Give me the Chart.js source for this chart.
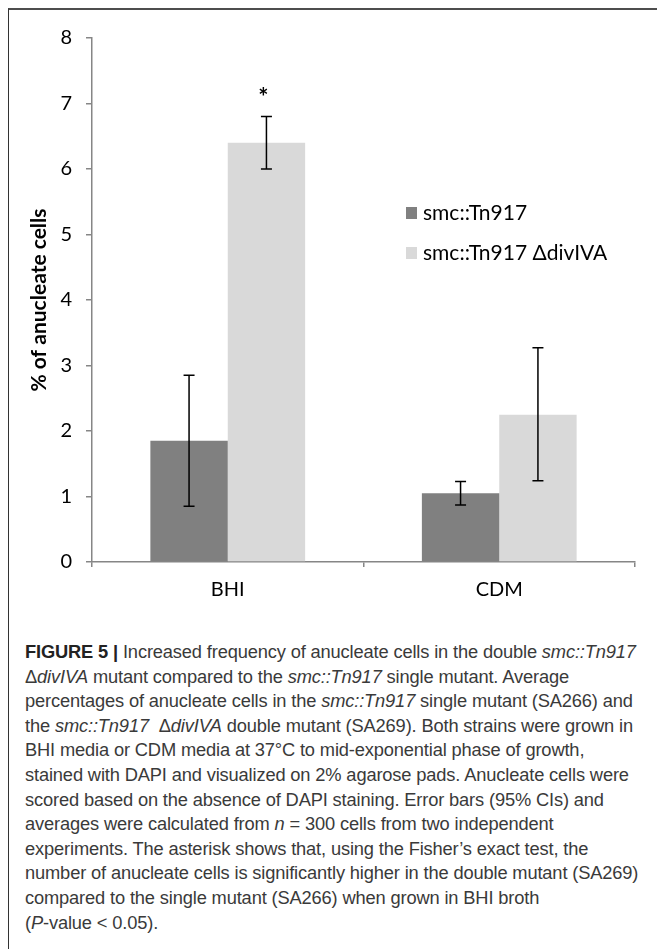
<!DOCTYPE html>
<html>
<head>
<meta charset="utf-8">
<script src="https://cdn.jsdelivr.net/npm/chart.js@4"></script>
<style>
  body { margin: 0; width: 657px; height: 949px; background: #fff; position: relative; overflow: hidden; }
  .frame { position: absolute; left: 8px; top: 8px; width: 649px; height: 941px;
           border-top: 2px solid #4d4d4d; border-left: 1.5px solid #333; box-sizing: border-box; }
  .plot { position: absolute; left: 0; top: 0; width: 657px; height: 620px; }
  .caption { position: absolute; left: 25px; top: 640px; width: 632px; white-space: nowrap;
             font-family: "Liberation Sans", Arial, sans-serif; font-size: 18.3px; line-height: 24.6px;
             color: #3a3a3a; letter-spacing: -0.15px; }
  .caption b { color: #222; }
</style>
</head>
<body>
<div class="frame"></div>
<div class="plot"><canvas id="chart"></canvas></div>
<div class="caption">
<b>FIGURE 5 |</b> Increased frequency of anucleate cells in the double <i>smc::Tn917</i><br>
Δ<i>divIVA</i> mutant compared to the <i>smc::Tn917</i> single mutant. Average<br>
percentages of anucleate cells in the <i>smc::Tn917</i> single mutant (SA266) and<br>
the <i>smc::Tn917</i> &nbsp;Δ<i>divIVA</i> double mutant (SA269). Both strains were grown in<br>
BHI media or CDM media at 37°C to mid-exponential phase of growth,<br>
stained with DAPI and visualized on 2% agarose pads. Anucleate cells were<br>
scored based on the absence of DAPI staining. Error bars (95% CIs) and<br>
averages were calculated from <i>n</i> = 300 cells from two independent<br>
experiments. The asterisk shows that, using the Fisher’s exact test, the<br>
number of anucleate cells is significantly higher in the double mutant (SA269)<br>
compared to the single mutant (SA266) when grown in BHI broth<br>
(<i>P</i>-value &lt; 0.05).
</div>
<script>
// values
const media = ["BHI", "CDM"]

const singleLabel = "smc::Tn917"
const singleValues = [1.85, 1.05]
const singleLow = [0.85, 0.87]
const singleHigh = [2.85, 1.23]
const singleMarks = ["", ""]

const doubleLabel = "smc::Tn917 ΔdivIVA"
const doubleValues = [6.4, 2.25]
const doubleLow = [6.0, 1.24]
const doubleHigh = [6.8, 3.27]
const doubleMarks = ["*", ""]

const yTicks = [0, 1, 2, 3, 4, 5, 6, 7, 8]

const AXIS_FONT = "Lato, 'Open Sans', sans-serif"
const AXIS_GREY = "#868686"

// error bars + significance asterisks, drawn through the y scale
const errorBars = {
  id: "errorBars",
  afterDatasetsDraw(chart) {
    const { ctx, scales: { y } } = chart
    chart.data.datasets.forEach((ds, i) => {
      const meta = chart.getDatasetMeta(i)
      meta.data.forEach((bar, j) => {
        const top = y.getPixelForValue(ds.errHigh[j])
        const bottom = y.getPixelForValue(ds.errLow[j])
        ctx.save()
        ctx.strokeStyle = "#000"
        ctx.lineWidth = 1.5
        ctx.beginPath()
        ctx.moveTo(bar.x, top)
        ctx.lineTo(bar.x, bottom)
        ctx.moveTo(bar.x - 5.5, top)
        ctx.lineTo(bar.x + 5.5, top)
        ctx.moveTo(bar.x - 5.5, bottom)
        ctx.lineTo(bar.x + 5.5, bottom)
        ctx.stroke()
        if (ds.marks[j]) {
          ctx.fillStyle = "#000"
          ctx.font = "bold 24px " + AXIS_FONT
          ctx.textAlign = "center"
          ctx.textBaseline = "middle"
          ctx.fillText(ds.marks[j], bar.x - 3, top - 18)
        }
        ctx.restore()
      })
    })
  }
}

// legend sits inside the plot area, right of the BHI group
const insideLegend = {
  id: "insideLegend",
  afterDraw(chart, args, opts) {
    const { ctx } = chart
    chart.data.datasets.forEach((ds, i) => {
      const cy = opts.y + i * opts.gap
      ctx.save()
      ctx.fillStyle = ds.backgroundColor
      ctx.fillRect(opts.x, cy - 6, 11, 12)
      ctx.fillStyle = "#000"
      ctx.font = "21px " + AXIS_FONT
      ctx.textAlign = "left"
      ctx.textBaseline = "middle"
      ctx.fillText(ds.label, opts.x + 17, cy)
      ctx.restore()
    })
  }
}

new Chart(document.getElementById("chart"), {
  type: "bar",
  data: {
    labels: media,
    datasets: [
      { label: singleLabel, data: singleValues, errLow: singleLow, errHigh: singleHigh,
        marks: singleMarks, backgroundColor: "#808080" },
      { label: doubleLabel, data: doubleValues, errLow: doubleLow, errHigh: doubleHigh,
        marks: doubleMarks, backgroundColor: "#d9d9d9" }
    ]
  },
  options: {
    responsive: true,
    maintainAspectRatio: false,
    animation: false,
    layout: { padding: { top: 38, right: 22, left: 0, bottom: 0 } },
    datasets: { bar: { categoryPercentage: 0.57, barPercentage: 1.0 } },
    plugins: {
      legend: { display: false },
      tooltip: { enabled: false },
      insideLegend: { x: 406, y: 213, gap: 40 }
    },
    scales: {
      x: {
        afterFit: s => { s.height = 58 },
        grid: { offset: true, drawOnChartArea: false, color: AXIS_GREY, tickLength: 5, lineWidth: 1.5 },
        border: { color: AXIS_GREY, width: 1.5 },
        ticks: { color: "#000", font: { family: AXIS_FONT, size: 20 }, padding: 11 }
      },
      y: {
        min: 0,
        max: 8,
        afterFit: s => { s.width = 92 },
        afterBuildTicks: s => { s.ticks = yTicks.map(v => ({ value: v })) },
        grid: { drawOnChartArea: false, color: AXIS_GREY, tickLength: 6, lineWidth: 1.5 },
        border: { color: AXIS_GREY, width: 1.5 },
        ticks: { color: "#000", font: { family: AXIS_FONT, size: 20 }, padding: 14 },
        title: {
          display: true,
          text: "% of anucleate cells",
          color: "#000",
          font: { family: AXIS_FONT, size: 21, weight: "bold" },
          padding: { top: 27, bottom: 0 }
        }
      }
    }
  },
  plugins: [errorBars, insideLegend]
})
</script>
</body>
</html>
